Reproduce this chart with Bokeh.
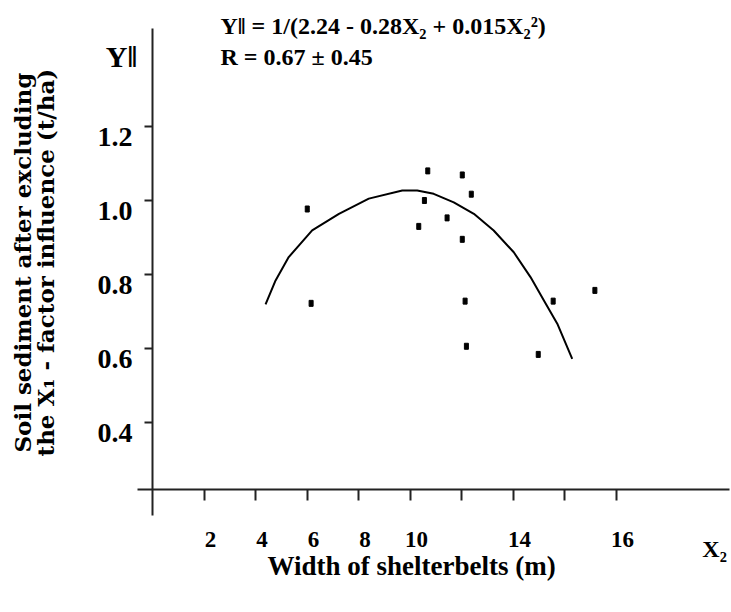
import math
from bokeh.plotting import figure
from bokeh.models import Range1d, LinearAxis, FixedTicker, Label
from bokeh.embed import file_html
from bokeh.resources import INLINE

# ---- data ----
width_x = [6.01, 6.16, 10.69, 12.03, 12.38, 10.56, 11.44, 10.34, 12.03, 12.14, 12.19, 14.98, 15.56, 17.18]
sediment_y = [0.977, 0.722, 1.080, 1.069, 1.017, 1.000, 0.953, 0.930, 0.895, 0.728, 0.606, 0.584, 0.728, 0.757]

curve_x = [4.39, 4.78, 5.29, 6.20, 7.24, 8.40, 9.70, 10.28, 10.92, 11.70, 12.48, 13.25, 14.03, 14.68, 15.20, 15.72, 16.30]
curve_y = [0.719, 0.784, 0.847, 0.919, 0.964, 1.005, 1.027, 1.027, 1.018, 0.995, 0.964, 0.919, 0.860, 0.793, 0.730, 0.667, 0.572]

x_ticks = [2, 4, 6, 8, 10, 12, 14, 16, 18]
x_label_ticks = [2, 4, 6, 8, 10, 14, 18]
x_label_text = ["2", "4", "6", "8", "10", "14", "16"]
y_ticks = [0.4, 0.6, 0.8, 1.0, 1.2]
y_label_text = ["0.4", "0.6", "0.8", "1.0", "1.2"]

x_axis_at = 0.219
y_axis_at = 0.0

FONT = "Liberation Serif"
INK = "#222222"

p = figure(width=731, height=612,
           x_range=Range1d(-5.9029, 22.4854), y_range=Range1d(-0.1135, 1.5405),
           x_axis_type=None, y_axis_type=None,
           toolbar_location=None, output_backend="svg",
           min_border=0)
p.outline_line_color = None
p.background_fill_color = "white"
p.border_fill_color = "white"

# x axis: line + tick marks
xa = LinearAxis(ticker=FixedTicker(ticks=x_ticks, minor_ticks=[]), fixed_location=x_axis_at,
                bounds=(-0.5825, 22.408))
xa.axis_line_color = INK
xa.axis_line_width = 2
xa.major_tick_line_color = INK
xa.major_tick_line_width = 2
xa.major_tick_out = 11
xa.major_tick_in = 0
xa.major_label_text_color = None
p.add_layout(xa, "below")

# x axis: labels (slightly offset as in the original)
x_shift = 0.25
x_lab_pos = [t + x_shift for t in x_label_ticks]
xb = LinearAxis(ticker=FixedTicker(ticks=x_lab_pos, minor_ticks=[]), fixed_location=x_axis_at)
xb.axis_line_color = None
xb.major_tick_line_color = None
xb.major_tick_out = 0
xb.major_tick_in = 0
xb.major_label_standoff = 43
xb.major_label_overrides = {pos: txt for pos, txt in zip(x_lab_pos, x_label_text)}
xb.major_label_text_font = FONT
xb.major_label_text_font_style = "bold"
xb.major_label_text_font_size = "23px"
xb.major_label_text_color = "black"
p.add_layout(xb, "below")

# y axis: line + tick marks
ya = LinearAxis(ticker=FixedTicker(ticks=y_ticks, minor_ticks=[]), fixed_location=y_axis_at,
                bounds=(0.1486, 1.4649))
ya.axis_line_color = INK
ya.axis_line_width = 2
ya.major_tick_line_color = INK
ya.major_tick_line_width = 2
ya.major_tick_out = 8
ya.major_tick_in = 0
ya.major_label_text_color = None
p.add_layout(ya, "left")

# y axis: labels
y_shift = 0.028
y_lab_pos = [t - y_shift for t in y_ticks]
yb = LinearAxis(ticker=FixedTicker(ticks=y_lab_pos, minor_ticks=[]), fixed_location=y_axis_at)
yb.axis_line_color = None
yb.major_tick_line_color = None
yb.major_tick_out = 0
yb.major_tick_in = 0
yb.major_label_standoff = 20
yb.major_label_overrides = {pos: txt for pos, txt in zip(y_lab_pos, y_label_text)}
yb.major_label_text_font = FONT
yb.major_label_text_font_style = "bold"
yb.major_label_text_font_size = "28px"
yb.major_label_text_color = "black"
p.add_layout(yb, "left")

# fitted curve and observations
p.line(curve_x, curve_y, line_color="black", line_width=2, line_join="round")
p.rect(width_x, sediment_y, width=4, height=6, width_units="screen", height_units="screen",
       fill_color="black", line_color="black")

# texts
def lab(x, y, text, size, align="left", baseline="middle", angle=0.0, font=FONT):
    p.add_layout(Label(x=x, y=y, text=text, text_font=font, text_font_style="bold",
                       text_font_size=size, text_align=align, text_baseline=baseline,
                       angle=angle, text_color="black"))

lab(2.641, 1.4703, "Y\u2016 = 1/(2.24 - 0.28X\u2082 + 0.015X\u2082\u00b2)", "24px")
lab(2.641, 1.3865, "R = 0.67 \u00b1 0.45", "24px")
lab(-1.204, 1.389, "Y\u2016", "30px", align="center")
lab(21.83, 0.057, "X\u2082", "24px", align="center")
lab(10.06, 0.0135, "Width of shelterbelts (m)", "27px", align="center")
lab(-5.05, 0.832, "Soil sediment after excluding", "23px", align="center",
    angle=math.pi / 2, font="DejaVu Serif")
lab(-4.16, 0.832, "the X\u2081 - factor influence (t/ha)", "23px", align="center",
    angle=math.pi / 2, font="DejaVu Serif")

open("out.html", "w").write(file_html(p, INLINE))
